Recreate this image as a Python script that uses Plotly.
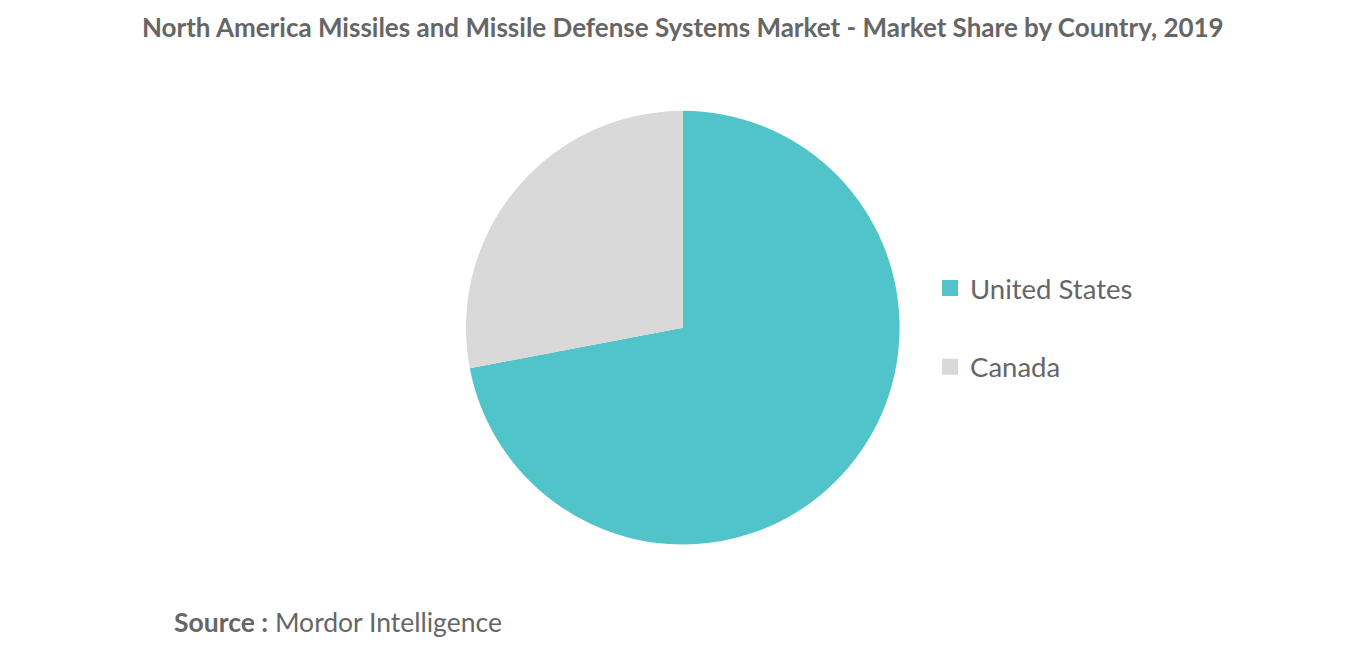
import plotly.graph_objects as go

countries = ["United States", "Canada"]
shares = [72, 28]
colors = ["#51c4c9", "#d9d9d9"]

fig = go.Figure(go.Pie(
    labels=countries, values=shares, sort=False, direction="clockwise", rotation=0,
    marker=dict(colors=colors), textinfo="none", hoverinfo="label+percent",
    domain=dict(x=[0.335, 0.653], y=[0.181, 0.843]), showlegend=False,
))
for name, c in zip(countries, colors):
    fig.add_trace(go.Scatter(x=[None], y=[None], mode="markers", name=name, legendgroup=name,
                             marker=dict(symbol="square", size=16, color=c)))
fig.update_xaxes(visible=False)
fig.update_yaxes(visible=False)
fig.update_layout(
    width=1366, height=655, margin=dict(l=0, r=0, t=0, b=0),
    paper_bgcolor="white", plot_bgcolor="white",
    font=dict(family="Lato, Open Sans, sans-serif", color="#666666"),
    title=dict(text="<b>North America Missiles and Missile Defense Systems Market - Market Share by Country, 2019</b>",
               x=0.494, xanchor="center", y=0.97, yanchor="middle",
               font=dict(size=26, color="#666666")),
    legend=dict(x=0.675, y=0.512, xanchor="left", yanchor="middle",
                font=dict(size=27.5, color="#666666"), tracegroupgap=40, itemwidth=30),
    annotations=[dict(text="<b>Source :</b> Mordor Intelligence", x=0.12, y=0.062,
                      xref="paper", yref="paper", xanchor="left", yanchor="middle",
                      showarrow=False, font=dict(size=26.5, color="#666666"))],
)
fig.write_html("out.html")
